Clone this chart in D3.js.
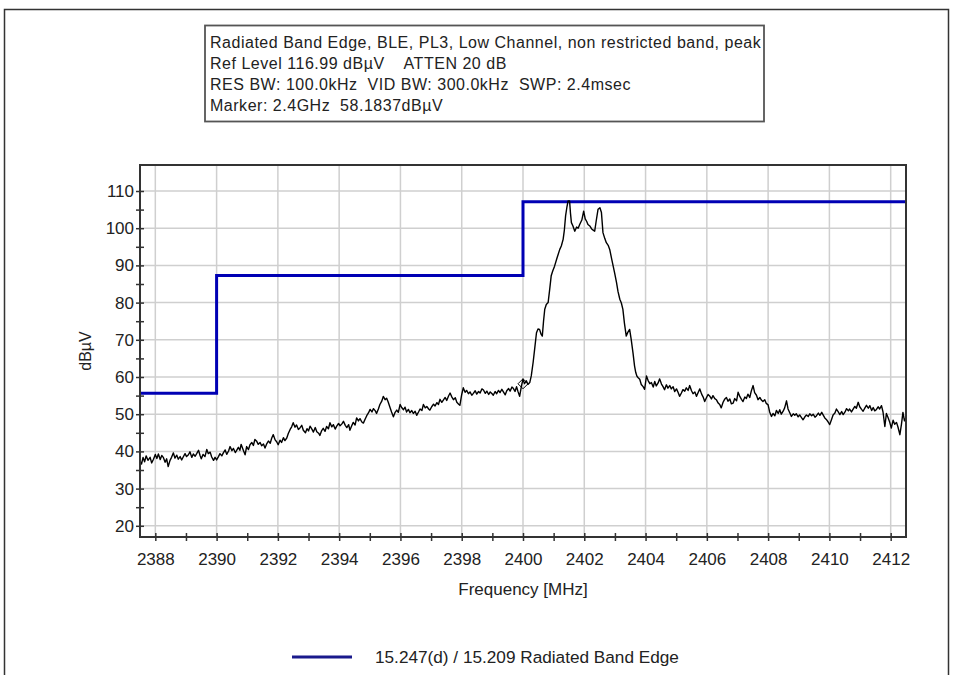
<!DOCTYPE html>
<html><head><meta charset="utf-8">
<script src="https://cdn.jsdelivr.net/npm/d3@7"></script>
<style>
html,body{margin:0;padding:0;background:#fff;}
svg text{font-family:"Liberation Sans",Arial,sans-serif;fill:#222;white-space:pre;}
</style></head>
<body>
<svg id="chart" width="954" height="675"></svg>
<script>
const titleLines = [
  "Radiated Band Edge, BLE, PL3, Low Channel, non restricted band, peak",
  "Ref Level 116.99 dBµV    ATTEN 20 dB",
  "RES BW: 100.0kHz  VID BW: 300.0kHz  SWP: 2.4msec",
  "Marker: 2.4GHz  58.1837dBµV"
];
const xTicks = [2388,2390,2392,2394,2396,2398,2400,2402,2404,2406,2408,2410,2412];
const yTicks = [20,30,40,50,60,70,80,90,100,110];
const limitFreq  = [2387.5, 2390, 2390, 2400, 2400, 2412.5];
const limitLevel = [55.6, 55.6, 87.3, 87.3, 107.1, 107.1];
const legendLabel = "15.247(d) / 15.209 Radiated Band Edge";
const markerFreq = 2400, markerLevel = 58.18;

const traceLow = [
[2387.50,37.5],[2387.55,36.6],[2387.60,38.4],[2387.65,37.2],[2387.70,38.8],[2387.76,37.6],[2387.83,38.4],[2387.88,36.9],
[2387.94,37.9],[2388.00,39.2],[2388.05,38.1],[2388.10,39.3],[2388.16,37.8],[2388.21,38.9],[2388.26,38.4],[2388.32,37.1],
[2388.37,38.0],[2388.42,35.9],[2388.48,37.6],[2388.53,38.4],[2388.59,39.6],[2388.64,38.2],[2388.70,39.0],[2388.75,37.9],
[2388.81,38.6],[2388.86,37.7],[2388.91,38.5],[2388.97,39.4],[2389.02,38.6],[2389.08,39.1],[2389.13,39.9],[2389.19,38.4],
[2389.24,39.3],[2389.30,38.7],[2389.35,39.4],[2389.41,40.3],[2389.46,38.9],[2389.50,38.0],[2389.56,39.2],[2389.62,38.6],
[2389.68,40.5],[2389.73,39.4],[2389.79,39.8],[2389.84,38.5],[2389.90,37.6],[2389.95,38.4],[2390.00,37.7],
[2390.06,38.6],[2390.11,39.4],[2390.17,38.8],[2390.22,39.6],[2390.28,40.4],[2390.33,39.2],[2390.39,40.1],[2390.44,41.3],
[2390.50,40.2],[2390.55,40.8],[2390.61,39.7],[2390.65,40.2],[2390.71,41.1],[2390.76,40.3],[2390.80,41.9],[2390.86,40.6],
[2390.93,39.1],[2390.98,41.3],[2391.04,40.5],[2391.09,41.8],[2391.15,42.4],[2391.20,41.6],[2391.25,43.2],[2391.31,42.7],
[2391.36,41.9],[2391.42,42.4],[2391.47,41.5],[2391.53,42.0],[2391.58,40.9],[2391.64,42.1],[2391.69,42.8],[2391.75,42.2],
[2391.80,43.6],[2391.85,44.5],[2391.91,43.1],[2391.96,42.6],[2392.01,41.8],[2392.07,43.0],[2392.12,42.4],[2392.18,43.7],
[2392.23,42.9],[2392.29,43.6],[2392.34,44.8],[2392.40,45.9],[2392.45,46.6],[2392.50,47.7],[2392.56,46.5],[2392.61,47.1],
[2392.67,45.9],[2392.72,46.3],[2392.78,47.0],[2392.83,45.7],[2392.90,45.0],[2392.95,46.1],[2393.00,45.5],[2393.05,46.8],
[2393.11,46.0],[2393.16,45.2],[2393.22,46.4],[2393.27,45.3],[2393.33,44.9],[2393.37,44.3],[2393.43,45.6],[2393.48,46.2],
[2393.54,45.4],[2393.59,46.7],[2393.65,46.1],[2393.70,47.7],[2393.76,46.6],[2393.81,47.2],[2393.87,46.0],[2393.92,46.8],
[2393.98,47.5],[2394.03,46.9],[2394.09,47.4],[2394.14,48.1],[2394.20,47.0],[2394.25,46.4],[2394.31,47.2],[2394.35,45.7],
[2394.41,46.9],[2394.46,47.8],[2394.52,47.1],[2394.57,49.0],[2394.63,48.2],[2394.68,48.8],[2394.74,47.9],[2394.79,47.6],
[2394.85,48.7],[2394.90,49.6],[2394.96,50.4],[2395.01,51.3],
[2395.07,50.6],[2395.12,51.5],[2395.18,50.9],[2395.22,50.2],[2395.28,51.4],[2395.33,52.6],[2395.39,53.5],[2395.44,54.8],
[2395.50,53.9],[2395.55,54.3],[2395.60,53.3],[2395.66,51.8],[2395.71,50.6],[2395.77,49.3],[2395.82,50.4],[2395.88,51.1],
[2395.93,50.5],[2395.99,52.6],[2396.04,51.8],[2396.10,51.2],[2396.15,51.9],[2396.20,50.6],[2396.26,51.3],[2396.31,50.4],
[2396.37,51.0],[2396.42,50.2],[2396.48,50.8],[2396.53,49.7],[2396.59,50.6],[2396.64,51.4],[2396.70,51.0],[2396.75,52.6],
[2396.81,51.7],[2396.86,52.1],[2396.92,51.4],[2396.96,51.1],[2397.02,52.0],[2397.08,52.7],[2397.13,52.2],[2397.19,53.1],
[2397.24,52.6],[2397.29,54.0],[2397.35,53.2],[2397.40,53.8],[2397.46,54.5],[2397.51,53.7],[2397.57,54.9],[2397.62,55.7],
[2397.68,54.6],[2397.73,53.9],[2397.79,54.4],[2397.84,53.2],[2397.90,52.7],[2397.94,52.4],[2398.00,55.3],[2398.05,57.1],
[2398.11,55.9],[2398.16,56.4],[2398.22,55.5],[2398.27,56.0],[2398.33,55.1],[2398.38,55.6],[2398.44,56.3],[2398.49,55.4],
[2398.55,56.1],[2398.60,55.7],[2398.66,56.8],[2398.71,56.5],[2398.77,55.6],[2398.82,56.2],[2398.88,55.3],[2398.93,56.0],
[2398.99,55.5],[2399.03,55.1],[2399.09,56.1],[2399.14,55.5],[2399.20,56.4],[2399.25,55.8],[2399.31,56.7],[2399.36,56.0],
[2399.42,55.2],[2399.47,56.3],[2399.53,56.9],[2399.58,56.2],[2399.64,57.3],[2399.68,57.0],[2399.74,56.1],[2399.79,57.4],
[2399.84,56.0],[2399.89,54.8],[2399.95,57.6]
];
const tracePeak = [
[2400.00,59.4],[2400.05,58.2],[2400.11,59.0],[2400.16,58.0],[2400.22,58.5],[2400.27,60.3],[2400.33,63.9],[2400.38,67.5],
[2400.44,71.9],[2400.49,72.9],[2400.54,72.8],[2400.59,71.5],[2400.63,71.0],[2400.67,75.0],[2400.71,78.2],[2400.76,79.5],
[2400.82,80.0],[2400.87,83.5],[2400.92,87.2],[2400.97,88.5],[2401.03,89.8],[2401.11,92.0],[2401.20,94.3],[2401.25,95.2],
[2401.31,97.0],[2401.35,99.5],[2401.39,103.3],[2401.43,105.5],[2401.47,107.3],[2401.52,107.3],[2401.55,104.0],[2401.58,101.5],
[2401.63,100.6],[2401.69,99.2],[2401.75,100.3],[2401.80,100.0],[2401.85,101.0],[2401.92,102.2],[2401.98,104.6],[2402.03,102.5],
[2402.08,101.8],[2402.12,101.0],[2402.18,100.6],[2402.24,99.8],[2402.29,99.5],[2402.34,99.2],[2402.39,102.0],[2402.45,105.1],
[2402.51,105.5],[2402.56,104.2],[2402.61,98.8],[2402.67,97.2],[2402.72,96.1],[2402.78,95.4],[2402.83,94.3],[2402.90,91.5],
[2402.99,88.0],[2403.05,85.5],[2403.10,83.0],[2403.16,80.9],[2403.21,79.9],[2403.26,78.2],[2403.31,74.5],[2403.37,71.0],
[2403.42,72.0],[2403.48,72.8],[2403.53,70.2],[2403.59,66.5],[2403.64,63.0],[2403.68,61.2],[2403.72,60.2],[2403.76,59.8],
[2403.81,59.4],[2403.86,58.0],[2403.92,57.4]
];
const traceHigh = [
[2403.97,56.7],[2404.03,60.3],[2404.08,59.1],[2404.14,58.2],[2404.19,58.5],[2404.25,57.3],[2404.30,58.8],[2404.35,57.6],
[2404.41,58.4],[2404.46,59.5],[2404.52,58.1],[2404.57,57.4],[2404.62,56.6],[2404.68,57.9],[2404.73,57.0],[2404.79,57.7],
[2404.84,56.8],[2404.90,57.4],[2404.95,56.1],[2405.01,56.8],[2405.06,55.9],[2405.11,54.8],[2405.17,55.7],[2405.22,56.6],
[2405.28,56.2],[2405.33,57.1],[2405.39,56.4],[2405.44,57.7],[2405.50,56.3],[2405.55,55.5],[2405.61,56.0],[2405.66,54.8],
[2405.72,55.9],[2405.77,56.8],[2405.83,55.4],[2405.88,54.6],[2405.93,53.4],[2405.99,54.5],[2406.04,55.3],[2406.09,54.9],
[2406.15,54.1],[2406.20,55.0],[2406.26,54.2],[2406.31,53.9],[2406.37,53.0],[2406.42,52.6],[2406.47,51.7],[2406.53,53.2],
[2406.58,54.0],[2406.64,54.5],[2406.69,53.5],[2406.75,54.1],[2406.80,52.8],[2406.86,53.0],[2406.91,54.2],[2406.97,53.6],
[2407.02,55.9],[2407.08,54.7],[2407.13,54.0],[2407.18,53.4],[2407.24,54.6],[2407.29,54.2],[2407.34,55.4],[2407.40,54.5],
[2407.45,56.2],[2407.51,57.7],[2407.56,55.8],[2407.62,55.1],[2407.67,53.9],[2407.73,54.5],[2407.78,53.8],[2407.83,53.4],
[2407.89,53.9],[2407.94,52.9],[2408.00,52.5],[2408.05,50.6],[2408.11,49.4],[2408.16,50.2],[2408.22,49.6],[2408.27,51.0],
[2408.33,50.2],[2408.38,51.2],[2408.43,50.0],[2408.49,50.8],[2408.54,51.7],[2408.60,53.6],[2408.65,51.4],[2408.71,50.3],
[2408.76,49.4],[2408.82,50.1],[2408.87,49.7],[2408.92,50.1],[2408.98,49.3],[2409.03,49.8],[2409.09,49.1],[2409.14,48.5],
[2409.20,49.3],[2409.25,49.8],[2409.31,49.4],[2409.36,50.1],[2409.42,49.6],[2409.47,50.0],[2409.53,49.2],[2409.58,49.6],
[2409.64,50.3],[2409.69,49.7],[2409.75,50.5],[2409.79,49.9],[2409.85,49.0],[2409.90,48.6],[2409.96,47.9],[2410.01,47.2],
[2410.07,48.6],[2410.12,49.8],[2410.18,50.3],[2410.23,51.4],[2410.29,50.6],[2410.34,49.9],[2410.40,50.7],[2410.45,49.9],
[2410.51,50.6],[2410.56,51.5],[2410.62,50.9],[2410.66,51.4],[2410.72,50.6],[2410.77,51.3],[2410.83,52.1],[2410.88,51.6],
[2410.94,53.2],[2410.99,52.0],[2411.05,51.3],[2411.10,50.8],[2411.16,51.7],[2411.21,52.4],[2411.27,51.6],[2411.32,52.3],
[2411.38,51.0],[2411.43,51.8],[2411.48,50.9],[2411.53,51.2],[2411.59,52.0],[2411.64,51.4],[2411.70,52.3],[2411.75,50.6],
[2411.81,46.7],[2411.86,50.2],[2411.92,49.0],[2411.97,47.8],[2412.02,46.3],[2412.08,48.4],[2412.13,47.3],[2412.19,47.8],
[2412.24,46.5],[2412.30,44.5],[2412.35,47.2],[2412.40,50.5],[2412.45,48.2],[2412.50,49.0]
];

const svg = d3.select("#chart");
const M = {left:140, top:165, right:906, bottom:537};
const x = d3.scaleLinear().domain([2387.5, 2412.5]).range([M.left, M.right]);
const y = d3.scaleLinear().domain([16.99, 116.99]).range([M.bottom, M.top]);
const FONT = "Liberation Sans, Arial, sans-serif";

// outer frame
svg.append("path").attr("d", `M4.5,675 V9.5 H948.5 V675`).attr("fill","none").attr("stroke","#333").attr("stroke-width",1.5);

// title box
const tb = svg.append("g");
tb.append("rect").attr("x",205).attr("y",25.5).attr("width",559).attr("height",96)
  .attr("fill","#fff").attr("stroke","#555").attr("stroke-width",1.8);
titleLines.forEach((t,i)=>{
  tb.append("text").attr("x",210).attr("y",47.5+i*21.3).attr("font-size",16)
    .attr("letter-spacing",0.52).text(t);
});

// grid
const g = svg.append("g");
g.selectAll(".gx").data(xTicks).join("line")
  .attr("x1",d=>x(d)).attr("x2",d=>x(d)).attr("y1",M.top).attr("y2",M.bottom)
  .attr("stroke","#cfcfcf").attr("stroke-width",1.5);
g.selectAll(".gy").data(yTicks).join("line")
  .attr("x1",M.left).attr("x2",M.right).attr("y1",d=>y(d)).attr("y2",d=>y(d))
  .attr("stroke","#cfcfcf").attr("stroke-width",1.5);

// limit line
const limitData = limitFreq.map((f,i)=>[f, limitLevel[i]]);
svg.append("path").datum(limitData)
  .attr("d", d3.line().x(d=>x(d[0])).y(d=>y(d[1])))
  .attr("fill","none").attr("stroke","#0000b4").attr("stroke-width",3);

// trace
const traceData = traceLow.concat(tracePeak, traceHigh);
svg.append("path").datum(traceData)
  .attr("d", d3.line().x(d=>x(d[0])).y(d=>y(d[1])))
  .attr("fill","none").attr("stroke","#000").attr("stroke-width",1.4).attr("stroke-linejoin","round");

// marker diamond
const mx = x(markerFreq), my = y(markerLevel);
svg.append("path").attr("d",`M${mx},${my-5} L${mx+5},${my} L${mx},${my+5} L${mx-5},${my} Z`)
  .attr("fill","none").attr("stroke","#000").attr("stroke-width",1);

// frame
svg.append("rect").attr("x",M.left).attr("y",M.top).attr("width",M.right-M.left).attr("height",M.bottom-M.top)
  .attr("fill","none").attr("stroke","#333").attr("stroke-width",2);

// axes
const xAxis = d3.axisBottom(x).tickValues(d3.range(2388,2413,1)).tickSize(0).tickFormat("");
const xa = svg.append("g").attr("transform",`translate(0,${M.bottom})`).call(xAxis);
xa.select(".domain").remove();
xa.selectAll(".tick").append("line").attr("y1",-4).attr("y2",4).attr("stroke","#333").attr("stroke-width",1.5);
const xl = svg.append("g").attr("transform",`translate(0,${M.bottom})`)
  .call(d3.axisBottom(x).tickValues(xTicks).tickSize(0).tickPadding(16).tickFormat(d3.format("d")));
xl.select(".domain").remove();
xl.selectAll("text").attr("font-size",17).attr("font-family",FONT).attr("fill","#222");

const yAxis = d3.axisLeft(y).tickValues(d3.range(20,115,5)).tickSize(0).tickFormat("");
const ya = svg.append("g").attr("transform",`translate(${M.left},0)`).call(yAxis);
ya.select(".domain").remove();
ya.selectAll(".tick").append("line").attr("x1",-4).attr("x2",4).attr("stroke","#333").attr("stroke-width",1.5);
const yl = svg.append("g").attr("transform",`translate(${M.left},0)`)
  .call(d3.axisLeft(y).tickValues(yTicks).tickSize(0).tickPadding(6).tickFormat(d3.format("d")));
yl.select(".domain").remove();
yl.selectAll("text").attr("font-size",17).attr("font-family",FONT).attr("fill","#222");

// axis titles
svg.append("text").attr("x",(M.left+M.right)/2).attr("y",595).attr("text-anchor","middle").attr("font-size",17).text("Frequency [MHz]");
svg.append("text").attr("transform",`translate(91,${(M.top+M.bottom)/2}) rotate(-90)`).attr("text-anchor","middle").attr("font-size",16).text("dBµV");

// legend
svg.append("line").attr("x1",292).attr("x2",352).attr("y1",657).attr("y2",657).attr("stroke","#1a1a8c").attr("stroke-width",3);
svg.append("text").attr("x",375).attr("y",663).attr("font-size",17.2).text(legendLabel);
</script>
</body></html>
